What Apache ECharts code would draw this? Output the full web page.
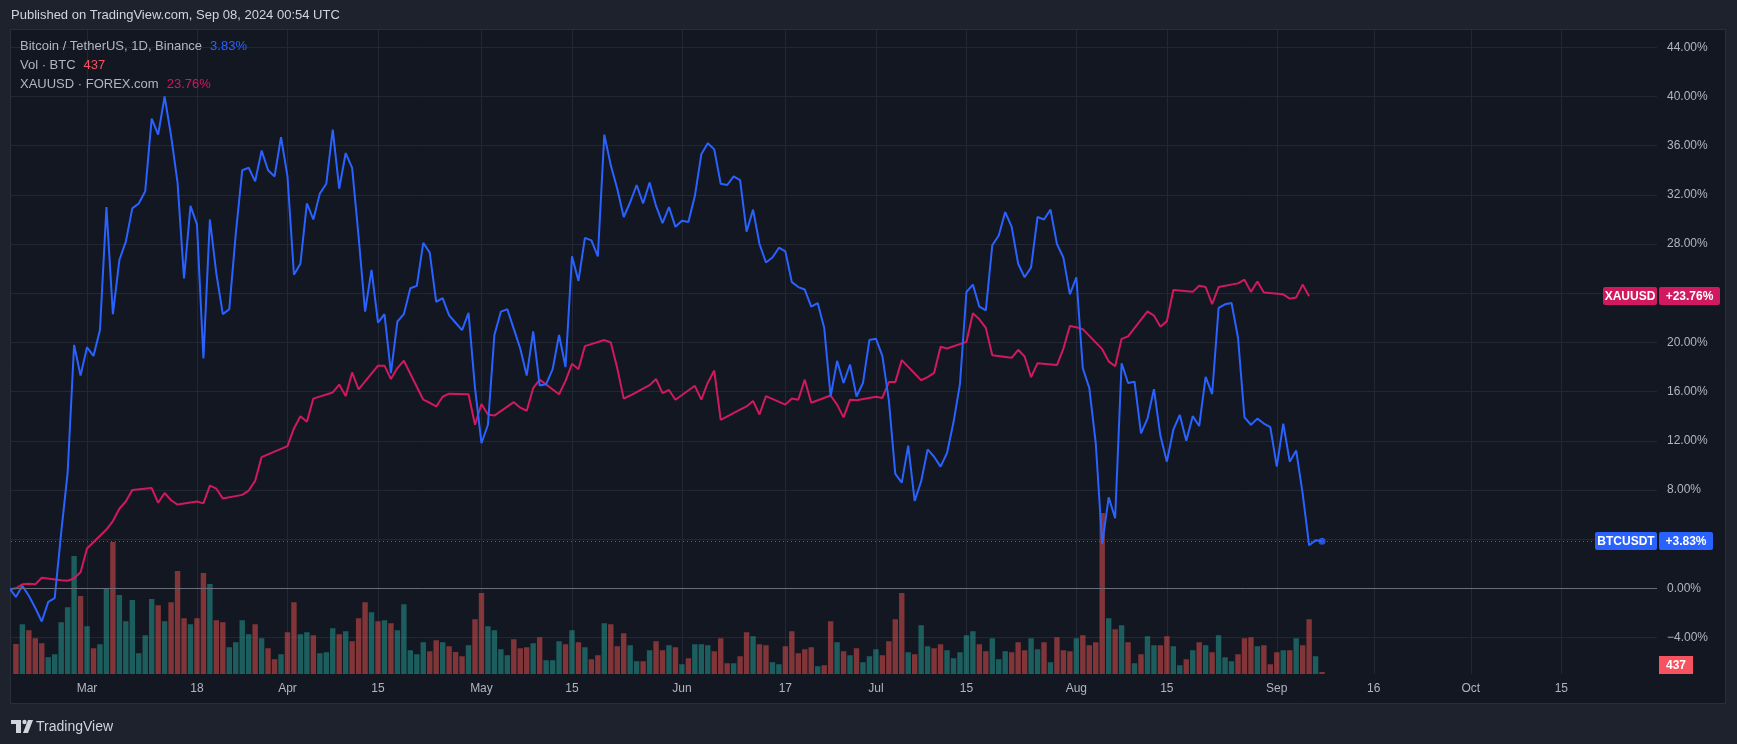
<!DOCTYPE html>
<html><head><meta charset="utf-8">
<script src="https://cdn.jsdelivr.net/npm/echarts@6/dist/echarts.min.js"></script>
<style>html,body{margin:0;padding:0;background:#1e222d;}#c{width:1737px;height:744px;}</style>
</head><body><div id="c"></div>
<script>
// ---- data (index 0 = 2024-02-16, one entry per calendar day) ----
const startDate = '2024-02-16';
// BTCUSDT % change
const btcPct = [null, null, 0.0, -0.7, 0.2, -0.6, -1.6, -2.7, -1.1, -0.8, 4.5, 9.4, 19.8, 17.3,
  19.6, 18.9, 21.0, 31.0, 22.3, 26.7, 28.2, 30.9, 31.3, 32.3, 38.2, 36.9, 40.0, 36.8, 33.0, 25.2, 31.1, 29.6, 18.7, 30.0, 25.6, 22.3, 22.7, 28.8, 34.0, 34.2, 33.1, 35.6, 34.0, 33.5, 36.7,
  33.5, 25.5, 26.4, 31.3, 30.0, 32.1, 32.9, 37.3, 32.5, 35.4, 34.2, 28.6, 22.5, 25.9, 21.6, 22.3, 17.5, 21.7, 22.3, 24.4, 24.6, 28.1, 27.3, 23.3, 23.6, 22.2, 21.6, 21.0, 22.4, 16.3,
  11.8, 13.3, 20.6, 22.5, 22.7, 21.1, 19.5, 17.3, 20.9, 16.5, 16.6, 17.8, 20.6, 18.0, 27.0, 25.0, 28.5, 28.3, 27.0, 36.9, 34.4, 32.5, 30.2, 31.4, 32.8, 31.3, 33.0, 31.1, 29.7, 31.0, 29.4,
  29.9, 29.8, 31.9, 35.3, 36.2, 35.7, 32.9, 32.8, 33.5, 33.2, 29.0, 30.8, 28.0, 26.5, 26.9, 27.7, 27.4, 24.9, 24.5, 24.3, 22.9, 23.2, 21.2, 15.6, 18.5, 16.7, 18.2, 15.6, 16.7, 20.2,
  20.3, 18.9, 15.3, 9.3, 8.6, 11.6, 7.1, 8.7, 11.3, 10.7, 9.9, 11.0, 13.5, 16.6, 24.1, 24.7, 22.9, 22.6, 27.9, 28.7, 30.6, 29.4, 26.4, 25.3, 26.1, 30.2, 30.0, 30.8, 28.0, 26.9, 23.9,
  25.3, 17.9, 16.3, 11.8, 3.6, 7.4, 5.7, 18.3, 16.7, 16.8, 12.6, 13.8, 16.2, 12.4, 10.3, 12.9, 14.1, 12.0, 14.0, 13.2, 17.2, 15.8, 22.8, 23.1, 23.2, 20.4, 13.9, 13.3, 13.8, 13.4, 13.1,
  9.9, 13.4, 10.3, 11.2, 7.7, 3.5, 3.9, 3.83];
// XAUUSD % change (weekends / holidays = null)
const goldPct = [-0.23, null, null,
  0.0, 0.32, 0.37, 0.32, 0.86, null, null,
  0.66, 0.61, 0.81, 1.31, 3.24, null, null,
  4.78, 5.47, 6.47, 7.06, 8.0, null, null,
  8.15, 6.96, 7.75, 7.16, 6.81, null, null,
  7.06, 6.91, 8.35, 8.1, 7.3, null, null,
  7.6, 7.95, 8.74, 10.67, null, null, null,
  11.57, 13.0, 14.0, 13.55, 15.43, null, null,
  15.93, 16.57, 15.63, 17.56, 16.18, null, null,
  18.11, 18.11, 17.02, 17.91, 18.51, null, null,
  15.34, 15.09, 14.79, 15.58, 15.83, null, null,
  15.78, 13.3, 14.99, 14.14, 14.05, null, null,
  15.14, 14.69, 14.44, 16.28, 16.97, null, null,
  15.78, 16.87, 18.26, 17.81, 19.7, null, null,
  20.19, 19.99, 17.91, 15.43, 15.68, null, null,
  16.52, 17.02, 15.88, 16.13, 15.34, null, null,
  16.47, 15.34, 16.72, 17.71, 13.7, null, null,
  14.54, 14.79, 15.24, 14.14, 15.63, null, null,
  14.94, 15.43, 15.34, 16.97, 15.09, null, null,
  15.68, 14.94, 13.9, 15.34, 15.29, null, null,
  15.58, 15.48, 16.77, 16.77, 18.56, null, null,
  16.92, 17.17, 17.52, 19.65, 19.5, null, null,
  20.04, 22.37, 21.88, 21.18, 18.95, null, null,
  18.75, 19.4, 18.85, 17.17, 18.31, null, null,
  18.16, 19.5, 21.33, 21.23, 21.08, null, null,
  19.45, 18.46, 18.06, 20.29, 20.49, null, null,
  22.52, 22.18, 21.28, 21.73, 24.26, null, null,
  24.11, 24.6, 24.5, 23.12, 24.5, null, null,
  24.8, 25.1, 24.11, 24.95, 24.06, null, null,
  23.91, 23.56, 23.66, 24.7, 23.76, null, null];
// Volume, thousand BTC
const volK = [null, null, null, 24, 39.8, 35, 28.6, 24.6, 13.4, 15.8, 41.4, 53.4, 94.4, 62.4,
  38.2, 20.6, 23.8, 68.6, 105.6, 63.2, 42.2, 59.2, 16.6, 31, 60, 55, 42.2, 57.4, 82.4, 44.6, 39.8, 44.6, 80.8, 72, 43, 41.4, 21.4, 25.4, 43, 31.8, 39.8, 28.6, 20.6, 11.8, 15.8,
  33.4, 57.4, 31.8, 33.4, 31, 16.6, 17.4, 36.6, 31.8, 34.2, 26.2, 44.6, 57.4, 49.4, 42.2, 43, 40.6, 35, 55.8, 19, 15.8, 25.4, 18.2, 27, 25.4, 22.2, 17.6, 14.2, 23, 43.8,
  64.8, 38.2, 35, 19.8, 15, 27.8, 20.6, 21.4, 24.6, 29.4, 11, 11, 26.2, 23.8, 35, 25.4, 21.4, 11.8, 15, 40.6, 39.8, 22.2, 32.6, 23, 10.2, 10.2, 19, 26.2, 19, 23, 21.4,
  7.8, 12.6, 23.8, 23.8, 23, 18.2, 28.6, 8.6, 8.6, 14.2, 33.4, 30.2, 23.8, 23, 9.4, 7.8, 22.2, 34.2, 16.6, 19.8, 21.4, 6.2, 7, 42.2, 25.4, 18.2, 15, 20.6, 9.4, 14.2,
  19.8, 15, 26.2, 43.8, 64.8, 17.4, 15.8, 39, 22.2, 20.6, 23.8, 19, 12.6, 17.4, 31, 34.2, 23.8, 18.2, 28.6, 11.8, 18.2, 17.4, 25.4, 19, 28.6, 19.8, 25.4, 9.4, 29.4, 19, 18.2,
  28.6, 31, 23, 25.4, 128.8, 44.6, 35.8, 39, 25.4, 8.6, 15.8, 30.2, 23, 23, 30.2, 22.2, 7, 11.8, 19, 25.4, 23, 17.4, 31, 13.4, 10.2, 15.8, 28.6, 29.4, 22.2, 23, 7.8,
  17.4, 19, 19, 28.6, 23, 43.8, 14.2, 0.437];
const tickDates = ['2024-03-01','2024-03-18','2024-04-01','2024-04-15','2024-05-01','2024-05-15','2024-06-01','2024-06-17',
  '2024-07-01','2024-07-15','2024-08-01','2024-08-15','2024-09-01','2024-09-16','2024-10-01','2024-10-15'];
const tickLabels = ['Mar','18','Apr','15','May','15','Jun','17','Jul','15','Aug','15','Sep','16','Oct','15'];
const yTicks = [-4, 0, 4, 8, 12, 16, 20, 24, 28, 32, 36, 40, 44];
const lastBtcText = '3.83%', lastGoldText = '23.76%', lastVolText = '437';

// ---- helpers ----
const FONT = "'Liberation Sans', Arial, sans-serif";
const BLUE = '#2962ff', PINK = '#d0195e', RED = '#f7525f';
const UPV = 'rgba(38,166,154,0.5)', DNV = 'rgba(239,83,80,0.5)';
const GRIDC = '#232733', TXT = '#b2b5be';
const DAY = 86400000;
const t0 = Date.parse(startDate + 'T00:00:00Z');
const dayIndex = s => Math.round((Date.parse(s + 'T00:00:00Z') - t0) / DAY);
const tickIdx = tickDates.map(dayIndex);

const btcData = btcPct.map((v, i) => [i, v]);
const goldData = goldPct.map((v, i) => [i, v]).filter(p => p[1] !== null);
const volData = volK.map((v, i) => v === null ? [i, null] : {
  value: [i, v],
  itemStyle: { color: (btcPct[i] >= btcPct[i - 1]) ? UPV : DNV }
});
let lastI = btcPct.length - 1;
const lastBtc = btcPct[lastI];
const lastGold = goldData[goldData.length - 1][1];

const X_MIN = 2.242, X_MAX = 256.8;
const Y_MIN = -6.97, Y_MAX = 45.408;
const VOL_MAX = 515.2;

const chart = echarts.init(document.getElementById('c'), null, { renderer: 'canvas' });
chart.setOption({
  backgroundColor: '#1e222d',
  animation: false,
  textStyle: { fontFamily: FONT },
  grid: { left: 11, right: 80, top: 30, bottom: 70, containLabel: false, outerBoundsMode: 'none' },
  xAxis: {
    type: 'value', min: X_MIN, max: X_MAX,
    axisLine: { show: false },
    axisTick: { show: false, customValues: tickIdx },
    axisLabel: {
      customValues: tickIdx, color: TXT, fontSize: 12, fontFamily: FONT, margin: 9,
      formatter: v => { const k = tickIdx.indexOf(Math.round(v)); return k >= 0 ? tickLabels[k] : ''; }
    },
    splitLine: { show: true, lineStyle: { color: GRIDC, width: 1 } }
  },
  yAxis: [{
    type: 'value', position: 'right', min: Y_MIN, max: Y_MAX,
    axisLine: { show: false },
    axisTick: { show: false, customValues: yTicks },
    axisLabel: {
      customValues: yTicks, color: TXT, fontSize: 12, fontFamily: FONT, margin: 10,
      formatter: v => (v < 0 ? '\u2212' : '') + Math.abs(v).toFixed(2) + '%'
    },
    splitLine: { show: true, lineStyle: { color: GRIDC, width: 1 } }
  }, {
    type: 'value', min: 0, max: VOL_MAX, show: false, splitLine: { show: false }
  }],
  series: [{
    name: 'Vol', type: 'bar', yAxisIndex: 1, data: volData, barWidth: 5.4, barMinHeight: 2,
    z: 1, clip: true, silent: true
  }, {
    name: 'XAUUSD', type: 'line', data: goldData, showSymbol: false, symbol: 'none',
    lineStyle: { color: PINK, width: 2 }, z: 3, clip: true, silent: true
  }, {
    name: 'BTCUSDT', type: 'line', data: btcData, showSymbol: false, symbol: 'none',
    lineStyle: { color: BLUE, width: 2 }, z: 4, clip: true, silent: true,
    markLine: {
      silent: true, symbol: 'none', label: { show: false },
      data: [
        { yAxis: 0, lineStyle: { color: '#6b6e79', type: 'solid', width: 1 } },
        { yAxis: lastBtc, lineStyle: { color: BLUE, type: [1, 3], width: 1 } }
      ]
    }
  }, {
    name: 'last', type: 'scatter', data: [[lastI, lastBtc]], symbolSize: 7,
    itemStyle: { color: BLUE }, z: 5, silent: true
  }]
});

// ---- decorations / labels ----
const yG = chart.convertToPixel({ yAxisIndex: 0 }, lastGold);
const yB = chart.convertToPixel({ yAxisIndex: 0 }, lastBtc);
const yV = Math.min(chart.convertToPixel({ yAxisIndex: 1 }, 0), 674);
function box(x, yc, w, fill, text) {
  return [
    { type: 'rect', z: 50, shape: { x: x, y: Math.round(yc) - 9, width: w, height: 18, r: 2 }, style: { fill: fill } },
    { type: 'text', z: 51, x: x + w / 2, y: Math.round(yc) + 0.5, style: { text: text, fill: '#ffffff', font: '600 12px ' + FONT, align: 'center', verticalAlign: 'middle' } }
  ];
}
const lg = (y, a, b, col) => ({
  type: 'text', z: 50, x: 20, y: y,
  style: {
    text: '{a|' + a + '}{b|' + b + '}', verticalAlign: 'middle',
    rich: { a: { fill: TXT, font: '13px ' + FONT }, b: { fill: col, font: '13px ' + FONT, padding: [0, 0, 0, 8] } }
  }
});
chart.setOption({
  graphic: [
    { type: 'rect', z: -10, silent: true, shape: { x: 10.5, y: 29.5, width: 1715, height: 674 }, style: { fill: '#131722', stroke: '#2a2e39', lineWidth: 1 } },
    { type: 'text', z: 50, x: 11, y: 15, style: { text: 'Published on TradingView.com, Sep 08, 2024 00:54 UTC', fill: '#d1d4dc', font: '13px ' + FONT, verticalAlign: 'middle' } },
    lg(46.5, 'Bitcoin / TetherUS, 1D, Binance', lastBtcText, BLUE),
    lg(65, 'Vol \u00b7 BTC', lastVolText, RED),
    lg(84, 'XAUUSD \u00b7 FOREX.com', lastGoldText, PINK),
    ...box(1603, yG, 54, PINK, 'XAUUSD'),
    ...box(1659, yG, 61, PINK, '+' + lastGoldText),
    ...box(1595, yB, 62, BLUE, 'BTCUSDT'),
    ...box(1659, yB, 54, BLUE, '+' + lastBtcText),
    { type: 'rect', z: 50, shape: { x: 1659, y: yV - 18, width: 34, height: 18 }, style: { fill: RED } },
    { type: 'text', z: 51, x: 1676, y: yV - 8.5, style: { text: lastVolText, fill: '#ffffff', font: '600 12px ' + FONT, align: 'center', verticalAlign: 'middle' } },
    // logo
    { type: 'rect', z: 50, shape: { x: 11, y: 720, width: 10, height: 4 }, style: { fill: '#d1d4dc' } },
    { type: 'rect', z: 50, shape: { x: 16, y: 720, width: 5, height: 13 }, style: { fill: '#d1d4dc' } },
    { type: 'circle', z: 50, shape: { cx: 24.5, cy: 722, r: 2.2 }, style: { fill: '#d1d4dc' } },
    { type: 'polygon', z: 50, shape: { points: [[28, 720], [33, 720], [28, 733], [23, 733]] }, style: { fill: '#d1d4dc' } },
    { type: 'text', z: 50, x: 36, y: 727, style: { text: 'TradingView', fill: '#d1d4dc', font: '14px ' + FONT, verticalAlign: 'middle' } }
  ]
});
</script></body></html>
